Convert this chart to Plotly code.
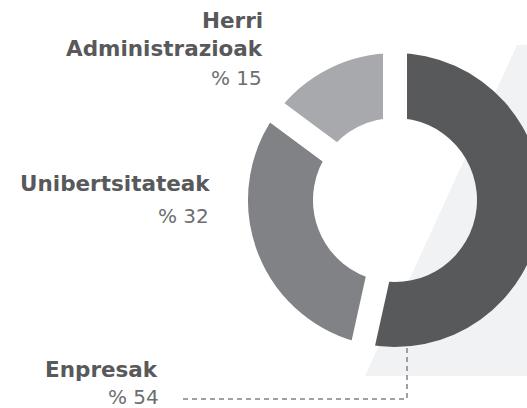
import plotly.graph_objects as go

# Share of participants by sector
sectors = ["Enpresak", "Unibertsitateak", "Herri Administrazioak"]
shares = [54, 32, 15]
share_labels = ["% 54", "% 32", "% 15"]
slice_colors = ["#58595b", "#808285", "#a7a9ac"]

W, H = 560, 408          # figure canvas (px); the page view shows its left part
CX, CY = 395, 200        # donut centre (px)
R_OUT, R_IN = 147, 82    # visible outer / inner radius (px)
GAP = 24                 # white gap between slices (px)


def px(x):
    return x / W


def py(y):
    return 1 - y / H


def domain(r):
    return dict(x=[px(CX - r), px(CX + r)], y=[py(CY + r), py(CY - r)])


fig = go.Figure()

# dark slice only, without stroke so its edges stay crisp over the backdrop
fig.add_trace(go.Pie(
    values=shares, labels=sectors, sort=False, direction="clockwise", rotation=0,
    hole=R_IN / R_OUT, domain=domain(R_OUT),
    marker=dict(colors=[slice_colors[0], "rgba(0,0,0,0)", "rgba(0,0,0,0)"],
                line=dict(width=0)),
    textinfo="none", hoverinfo="label+percent", showlegend=False,
))

# remaining slices, with white strokes that cut the gaps
r2 = R_OUT + GAP / 2
h2 = (R_IN - GAP / 2) / r2
fig.add_trace(go.Pie(
    values=shares, labels=sectors, sort=False, direction="clockwise", rotation=0,
    hole=h2, domain=domain(r2),
    marker=dict(colors=["rgba(0,0,0,0)", slice_colors[1], slice_colors[2]],
                line=dict(color="white", width=[0, GAP, GAP])),
    textinfo="none", hoverinfo="label+percent", showlegend=False,
))

shapes = [
    # light backdrop parallelogram
    dict(type="path", xref="paper", yref="paper", layer="below",
         path=f"M {px(365)},{py(376)} L {px(517)},{py(45)} L 1,{py(45)} L 1,{py(376)} Z",
         fillcolor="#f1f2f4", line=dict(width=0)),
    # dashed leader to the Enpresak label
    dict(type="path", xref="paper", yref="paper",
         path=f"M {px(183)},{py(399)} L {px(407)},{py(399)} L {px(407)},{py(348)}",
         line=dict(color="#808285", width=1.5, dash="5px,4px")),
]

FONT = "DejaVu Sans"
BOLD = dict(family=FONT, size=21.5, color="#58595b", weight="bold")
LIGHT = dict(family=FONT, size=20, color="#6d6e71")


def label(text, x, baseline, font):
    # place a text line by its right edge and baseline (px)
    return dict(text=text, xref="paper", yref="paper", showarrow=False,
                x=px(x), y=py(baseline - 0.36 * font["size"]),
                xanchor="right", yanchor="middle", font=font)


annotations = [
    label("Herri", 265, 28, BOLD),
    label("Administrazioak", 265, 56, BOLD),
    label(share_labels[2], 264, 85, LIGHT),
    label("Unibertsitateak", 212, 191, BOLD),
    label(share_labels[1], 211, 223, LIGHT),
    label(sectors[0], 160, 377, BOLD),
    label(share_labels[0], 161, 404, LIGHT),
]

fig.update_layout(
    width=W, height=H, margin=dict(l=0, r=0, t=0, b=0),
    paper_bgcolor="white", plot_bgcolor="white",
    shapes=shapes, annotations=annotations,
)

fig.write_html(
    "out.html",
    post_script="document.documentElement.style.overflow='hidden';"
                "document.body.style.overflow='hidden';",
)
